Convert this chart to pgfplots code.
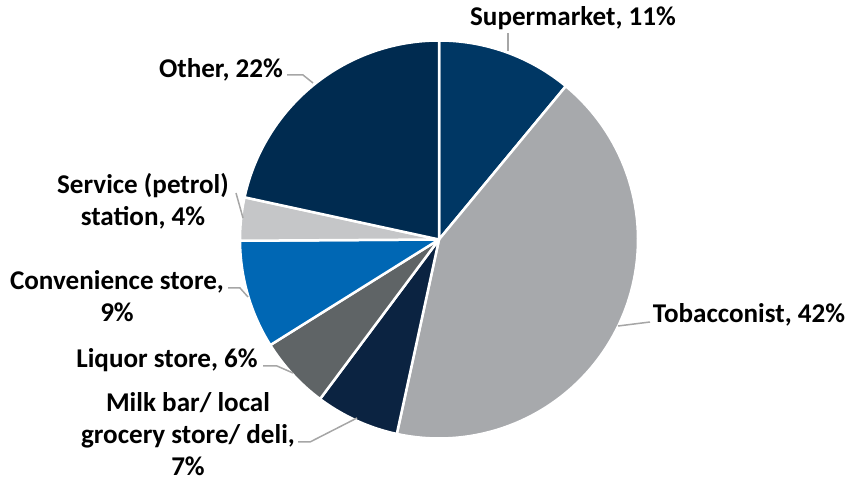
\documentclass[border=0pt]{standalone}
\usepackage{pgfplots}
\usepackage{pgfplotstable}
\pgfplotsset{compat=1.18}
\usepackage{fontspec}
\setmainfont{Carlito}

\definecolor{c0}{HTML}{003764}
\definecolor{c1}{HTML}{A7A9AC}
\definecolor{c2}{HTML}{0B2341}
\definecolor{c3}{HTML}{5F6466}
\definecolor{c4}{HTML}{0067B4}
\definecolor{c5}{HTML}{C5C6C8}
\definecolor{c6}{HTML}{002B50}
\definecolor{leader}{HTML}{A6A6A6}

% shares (percent), clockwise from 12 o'clock
\pgfplotstableread{
idx value
0 11.0
1 42.4
2 6.8
3 5.9
4 8.8
5 3.5
6 21.6
}\piedata

\def\total{0}
\pgfplotsforeachungrouped \i in {0,...,6}{%
  \pgfplotstablegetelem{\i}{value}\of\piedata
  \pgfmathsetmacro\total{\total+\pgfplotsretval}%
}
\def\cum{0}
\pgfplotsforeachungrouped \i in {0,...,6}{%
  \pgfplotstablegetelem{\i}{value}\of\piedata
  \pgfmathsetmacro\newcum{\cum+\pgfplotsretval*360/\total}%
  \expandafter\let\csname sa\i\endcsname\cum
  \expandafter\let\csname ea\i\endcsname\newcum
  \let\cum\newcum
}

\newcommand\lbl{\fontsize{27.2}{32.5}\selectfont\bfseries}

\begin{document}
\begin{tikzpicture}
\begin{axis}[scale only axis, width=849bp, height=481bp,
  xmin=0, xmax=849, ymin=0, ymax=481, axis lines=none, clip=false]
\path (axis cs:0,0) rectangle (axis cs:849,481);
\pgfplotsinvokeforeach{0,...,6}{
  \addplot[fill=c#1, draw=white, line width=2.5bp, line join=round,
    domain=\csname sa#1\endcsname:\csname ea#1\endcsname, samples=80]
    ({439+199*sin(x)},{241.5+199*cos(x)}) -- (axis cs:439,241.5) -- cycle;
}
\begin{scope}[leader, line width=1.5bp]
\draw (axis cs:508,448) -- (axis cs:508,430);
\draw (axis cs:618,155) -- (axis cs:650,159);
\draw (axis cs:287,406) -- (axis cs:303,406) -- (axis cs:313,398);
\draw (axis cs:236,288) -- (axis cs:243,263);
\draw (axis cs:228,193) -- (axis cs:240,193) -- (axis cs:248,184);
\draw (axis cs:263,115) -- (axis cs:277,115) -- (axis cs:293,108);
\draw (axis cs:298,39) -- (axis cs:310,39) -- (axis cs:357,63);
\end{scope}
\begin{scope}[every node/.style={font=\lbl, align=center, text=black, inner sep=0pt}]
\node at (axis cs:573,463) {Supermarket, 11\%};
\node at (axis cs:749,166) {Tobacconist, 42\%};
\node at (axis cs:221,411) {Other, 22\%};
\node at (axis cs:143,279.5) {Service (petrol)\\station, 4\%};
\node at (axis cs:117,185) {Convenience store,\\9\%};
\node at (axis cs:167,121) {Liquor store, 6\%};
\node at (axis cs:188,47) {Milk bar/ local\\grocery store/ deli,\\7\%};
\end{scope}
\end{axis}
\end{tikzpicture}
\end{document}
